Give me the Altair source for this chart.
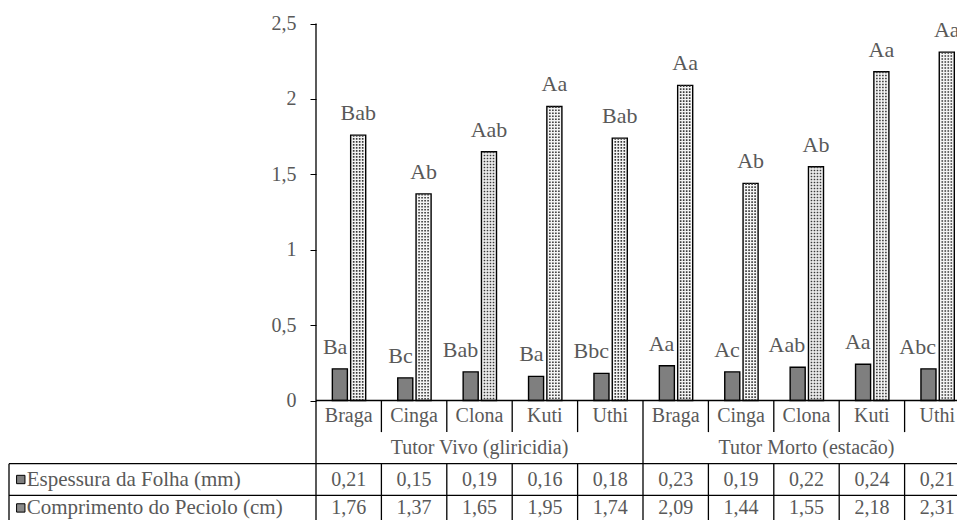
import altair as alt
import pandas as pd

# ---------------- data ----------------
cultivars = ["Braga", "Cinga", "Clona", "Kuti", "Uthi"]
groups = ["Tutor Vivo (gliricidia)", "Tutor Morto (estacão)"]
series_names = ["Espessura da Folha (mm)", "Comprimento do Peciolo (cm)"]
espessura = [0.21, 0.15, 0.19, 0.16, 0.18, 0.23, 0.19, 0.22, 0.24, 0.21]
comprimento = [1.76, 1.37, 1.65, 1.95, 1.74, 2.09, 1.44, 1.55, 2.18, 2.31]
esp_letters = ["Ba", "Bc", "Bab", "Ba", "Bbc", "Aa", "Ac", "Aab", "Aa", "Abc"]
comp_letters = ["Bab", "Ab", "Aab", "Aa", "Bab", "Aa", "Ab", "Ab", "Aa", "Aa"]
y_ticks = [0, 0.5, 1, 1.5, 2, 2.5]

# ---------------- layout ----------------
W, H = 949, 512
PX_CAT = 65.4          # pixels per category
AXIS_PX = 308          # y-axis position from left
ZERO_PX = 392.5        # value 0 from top
PX_UNIT = 150.8        # pixels per value unit
ROW = 31.6 / PX_UNIT   # table row height in value units
X_LEFT = -(AXIS_PX - 1) / PX_CAT  # left border of the table

x_dom = [-AXIS_PX / PX_CAT, (W - AXIS_PX) / PX_CAT]
y_dom = [-(H - ZERO_PX) / PX_UNIT, ZERO_PX / PX_UNIT]
xs = alt.Scale(domain=x_dom, nice=False, zero=False)
ys = alt.Scale(domain=y_dom, nice=False, zero=False)

FONT = "Liberation Serif"
TXT = "#595959"
n = len(espessura)
labels_all = [c for g in groups for c in cultivars]

def fmt(v):
    return f"{v:.2f}".replace(".", ",")

# bars
BW = 0.23
bar_rows = []
tex_rows = []
for i in range(n):
    c = i + 0.5
    bar_rows.append(dict(x1=c - 0.25, x2=c - 0.25 + BW, value=espessura[i], serie=series_names[0],
                         lx=c - 0.02, letter=esp_letters[i]))
    x1 = c + 0.03
    bar_rows.append(dict(x1=x1, x2=x1 + BW, value=comprimento[i], serie=series_names[1],
                         lx=x1 + BW / 2, letter=comp_letters[i]))
    # dotted texture columns inside the pattern bar
    for k in range(1, 5):
        tex_rows.append(dict(x=x1 + BW * k / 5, value=comprimento[i]))
bar_df = pd.DataFrame(bar_rows)
tex_df = pd.DataFrame(tex_rows)

cscale = alt.Scale(domain=series_names, range=["#7f7f7f", "#f4f4f4"])

bars = alt.Chart(bar_df).mark_bar(stroke="black", strokeWidth=1.4).encode(
    x=alt.X("x1:Q", scale=xs, axis=None),
    x2="x2:Q",
    y=alt.Y("value:Q", scale=ys, axis=alt.Axis(
        values=y_ticks, offset=-AXIS_PX, domain=False, grid=False, title=None,
        tickColor="black", tickSize=6, labelPadding=14,
        labelFont=FONT, labelFontSize=20, labelColor=TXT,
        labelExpr="replace(toString(datum.value), '.', ',')")),
    y2=alt.datum(0),
    color=alt.Color("serie:N", scale=cscale, legend=None),
)

texture = alt.Chart(tex_df).mark_rule(color="#3a3a3a", strokeWidth=1.6, strokeDash=[1.6, 1.4]).encode(
    x=alt.X("x:Q", scale=xs), y=alt.Y("value:Q", scale=ys), y2=alt.datum(0))

esp_lab = alt.Chart(bar_df[bar_df.serie == series_names[0]]).mark_text(
    font=FONT, fontSize=22, color=TXT, align="right", baseline="middle", dy=-22
).encode(x=alt.X("lx:Q", scale=xs), y=alt.Y("value:Q", scale=ys), text="letter:N")

comp_lab = alt.Chart(bar_df[bar_df.serie == series_names[1]]).mark_text(
    font=FONT, fontSize=22, color=TXT, align="center", baseline="middle", dy=-22
).encode(x=alt.X("lx:Q", scale=xs), y=alt.Y("value:Q", scale=ys), text="letter:N")

# table lines
bottom = y_dom[0]
right = float(n)
segs = [
    dict(x=0, x2=right, y=0, y2=0),
    dict(x=X_LEFT, x2=right, y=-2 * ROW, y2=-2 * ROW),
    dict(x=X_LEFT, x2=right, y=-3 * ROW, y2=-3 * ROW),
    dict(x=0, x2=0, y=2.5, y2=bottom),
    dict(x=X_LEFT, x2=X_LEFT, y=-2 * ROW, y2=bottom),
    dict(x=5, x2=5, y=0, y2=bottom),
    dict(x=10, x2=10, y=0, y2=bottom),
]
for k in range(1, n):
    if k == 5:
        continue
    segs.append(dict(x=k, x2=k, y=0, y2=-ROW))
    segs.append(dict(x=k, x2=k, y=-2 * ROW, y2=bottom))
seg_df = pd.DataFrame(segs)
lines = alt.Chart(seg_df).mark_rule(color="black", strokeWidth=1.3).encode(
    x=alt.X("x:Q", scale=xs), x2="x2:Q", y=alt.Y("y:Q", scale=ys), y2="y2:Q")

# table texts
LAST = -3.4 * ROW
txt_rows = []
for i, lab in enumerate(labels_all):
    txt_rows.append(dict(x=i + 0.5, y=-0.5 * ROW, t=lab))
    txt_rows.append(dict(x=i + 0.5, y=-2.5 * ROW, t=fmt(espessura[i])))
    txt_rows.append(dict(x=i + 0.5, y=LAST, t=fmt(comprimento[i])))
for j, g in enumerate(groups):
    txt_rows.append(dict(x=j * 5 + 2.5, y=-1.5 * ROW, t=g))
txt_df = pd.DataFrame(txt_rows)
table_txt = alt.Chart(txt_df).mark_text(
    font=FONT, fontSize=20, color=TXT, align="center", baseline="middle"
).encode(x=alt.X("x:Q", scale=xs), y=alt.Y("y:Q", scale=ys), text="t:N")

row_df = pd.DataFrame(dict(
    serie=series_names,
    x=[X_LEFT + 0.27, X_LEFT + 0.27],
    sx=[X_LEFT + 0.18, X_LEFT + 0.18],
    y=[-2.5 * ROW, LAST],
))
row_txt = alt.Chart(row_df).mark_text(
    font=FONT, fontSize=21, color=TXT, align="left", baseline="middle"
).encode(x=alt.X("x:Q", scale=xs), y=alt.Y("y:Q", scale=ys), text="serie:N")
sq_scale = alt.Scale(domain=series_names, range=["#7f7f7f", "#8a8a8a"])
row_sq = alt.Chart(row_df).mark_point(shape="square", size=70, filled=True, stroke="black",
                                       strokeWidth=1, opacity=1).encode(
    x=alt.X("sx:Q", scale=xs), y=alt.Y("y:Q", scale=ys),
    fill=alt.Fill("serie:N", scale=sq_scale, legend=None))

chart = alt.layer(bars, texture, lines, esp_lab, comp_lab, table_txt, row_txt, row_sq).properties(
    width=W, height=H, padding=0, autosize=alt.AutoSizeParams(type="none"),
    background="white",
).configure_view(stroke=None)

chart.save("out.html", embed_options={"renderer": "svg", "actions": False})
